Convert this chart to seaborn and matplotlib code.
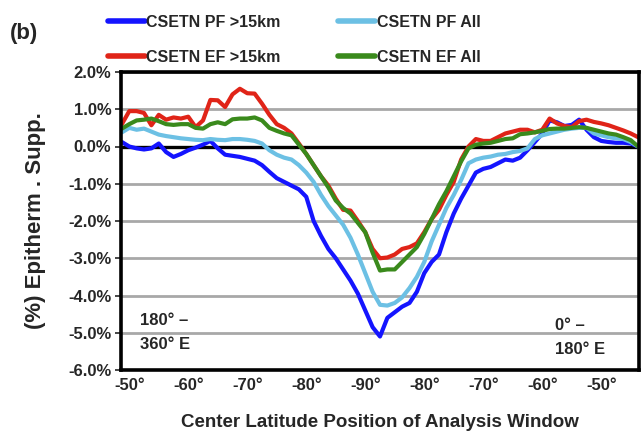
import numpy as np
import pandas as pd
import matplotlib
matplotlib.use("Agg")
import matplotlib.pyplot as plt
import seaborn as sns

# Window position along the path: 0 = -50° (180-360E side), 4 = -90°, 8 = -50° (0-180E side)
pos = np.arange(-0.125, 8.626, 0.125)

pf_15km = [0.12, 0.00, -0.05, -0.08, -0.05, 0.08, -0.15, -0.28, -0.20, -0.10,
           -0.03, 0.05, 0.15, -0.05, -0.22, -0.25, -0.28, -0.33, -0.38, -0.50,
           -0.68, -0.85, -0.95, -1.05, -1.15, -1.35, -2.00, -2.40, -2.75, -3.00,
           -3.30, -3.60, -3.95, -4.40, -4.85, -5.10, -4.60, -4.45, -4.30, -4.20,
           -3.90, -3.40, -3.10, -2.90, -2.30, -1.80, -1.40, -1.05, -0.70, -0.60,
           -0.55, -0.45, -0.35, -0.38, -0.30, -0.10, 0.12, 0.35, 0.70, 0.65,
           0.55, 0.58, 0.72, 0.45, 0.25, 0.15, 0.12, 0.10, 0.10, 0.08,
           0.00]

pf_all = [0.38, 0.50, 0.45, 0.48, 0.40, 0.32, 0.28, 0.25, 0.22, 0.20,
          0.18, 0.17, 0.20, 0.18, 0.17, 0.20, 0.20, 0.18, 0.15, 0.08,
          -0.10, -0.22, -0.30, -0.35, -0.50, -0.70, -0.95, -1.30, -1.60, -1.85,
          -2.10, -2.45, -2.90, -3.40, -3.90, -4.25, -4.27, -4.20, -4.05, -3.80,
          -3.50, -3.10, -2.55, -2.10, -1.65, -1.30, -0.90, -0.45, -0.35, -0.30,
          -0.27, -0.22, -0.20, -0.15, -0.12, -0.05, 0.20, 0.30, 0.35, 0.40,
          0.45, 0.48, 0.50, 0.50, 0.35, 0.30, 0.25, 0.22, 0.20, 0.12,
          0.00]

ef_15km = [0.60, 0.95, 0.95, 0.90, 0.57, 0.85, 0.72, 0.78, 0.75, 0.80,
           0.52, 0.70, 1.25, 1.24, 1.06, 1.40, 1.55, 1.43, 1.42, 1.15,
           0.85, 0.60, 0.50, 0.35, 0.08, -0.20, -0.50, -0.80, -1.05, -1.40,
           -1.70, -1.72, -2.00, -2.30, -2.75, -3.00, -2.98, -2.90, -2.75, -2.70,
           -2.60, -2.30, -1.95, -1.70, -1.30, -0.95, -0.35, 0.00, 0.20, 0.15,
           0.15, 0.25, 0.35, 0.40, 0.45, 0.45, 0.38, 0.45, 0.75, 0.62,
           0.55, 0.52, 0.68, 0.72, 0.66, 0.62, 0.57, 0.50, 0.43, 0.35,
           0.25]

ef_all = [0.48, 0.60, 0.70, 0.72, 0.75, 0.68, 0.60, 0.58, 0.60, 0.60,
          0.50, 0.48, 0.60, 0.65, 0.60, 0.73, 0.75, 0.75, 0.78, 0.70,
          0.50, 0.42, 0.35, 0.30, 0.05, -0.20, -0.50, -0.80, -1.10, -1.45,
          -1.65, -1.80, -2.05, -2.30, -2.85, -3.33, -3.30, -3.30, -3.10, -2.90,
          -2.70, -2.35, -1.95, -1.55, -1.20, -0.80, -0.40, -0.05, 0.05, 0.08,
          0.10, 0.15, 0.20, 0.22, 0.33, 0.35, 0.38, 0.42, 0.47, 0.48,
          0.48, 0.50, 0.52, 0.50, 0.45, 0.40, 0.35, 0.32, 0.25, 0.17,
          0.00]

series_names = ["CSETN PF >15km", "CSETN EF >15km", "CSETN PF All", "CSETN EF All"]
series_colors = ["#1414ff", "#e02418", "#6cc0e4", "#3a8a1c"]
xtick_labels = ["-50°", "-60°", "-70°", "-80°", "-90°", "-80°", "-70°", "-60°", "-50°"]
ytick_values = [-6, -5, -4, -3, -2, -1, 0, 1, 2]

df = pd.concat([
    pd.DataFrame({"pos": pos, "val": vals, "series": name})
    for name, vals in zip(series_names, [pf_15km, ef_15km, pf_all, ef_all])
])

sns.set_style("white")
plt.rcParams["font.family"] = ["Liberation Sans", "DejaVu Sans"]
plt.rcParams["font.weight"] = "bold"

fig = plt.figure(figsize=(6.43, 4.38), dpi=100)
ax = fig.add_axes([121 / 643, 1 - 370 / 438, 518 / 643, 298 / 438])

ax.yaxis.grid(True, color="#a8a8a8", linewidth=2)
ax.set_axisbelow(True)
ax.axhline(0, color="black", linewidth=2.4, zorder=1.5)

sns.lineplot(data=df, x="pos", y="val", hue="series", hue_order=series_names,
             palette=dict(zip(series_names, series_colors)), linewidth=3, ax=ax)

ax.set_xlim(-0.14, 8.64)
ax.set_ylim(-6, 2)
ax.set_xticks(range(len(xtick_labels)))
ax.set_xticklabels(xtick_labels, fontsize=12, fontweight="bold")
ax.set_yticks(ytick_values)
ax.set_yticklabels([f"{v:.1f}%" for v in ytick_values], fontsize=12, fontweight="bold")
ax.tick_params(axis="x", length=0, pad=6)
ax.tick_params(axis="y", length=4, width=1.2, direction="out", left=True, pad=3)
for s in ax.spines.values():
    s.set_color("black")
    s.set_linewidth(2.6)

ax.set_xlabel("Center Latitude Position of Analysis Window", fontsize=13.5,
              fontweight="bold", labelpad=15)
ax.set_ylabel("(%) Epitherm . Supp.", fontsize=16, fontweight="bold", labelpad=16)

ax.text(0.037, 0.125, "180° –\n360° E", transform=ax.transAxes, fontsize=12,
        fontweight="bold", va="center", ha="left", linespacing=1.75)
ax.text(0.838, 0.11, "0° –\n180° E", transform=ax.transAxes, fontsize=12,
        fontweight="bold", va="center", ha="left", linespacing=1.75)

sns.move_legend(ax, "upper left", bbox_to_anchor=(108 / 643, 1 - 15 / 438),
                bbox_transform=fig.transFigure, ncol=2, title=None, frameon=False,
                fontsize=11.5, handlelength=2.3, handletextpad=0.1,
                columnspacing=3.6, labelspacing=1.25, borderpad=0, borderaxespad=0)
for t in ax.get_legend().get_texts():
    t.set_fontweight("bold")
for h in ax.get_legend().legend_handles:
    h.set_linewidth(4)

fig.text(10 / 643, 1 - 33 / 438, "(b)", fontsize=16, fontweight="bold", va="center")

fig.savefig("out.png", dpi=100)
